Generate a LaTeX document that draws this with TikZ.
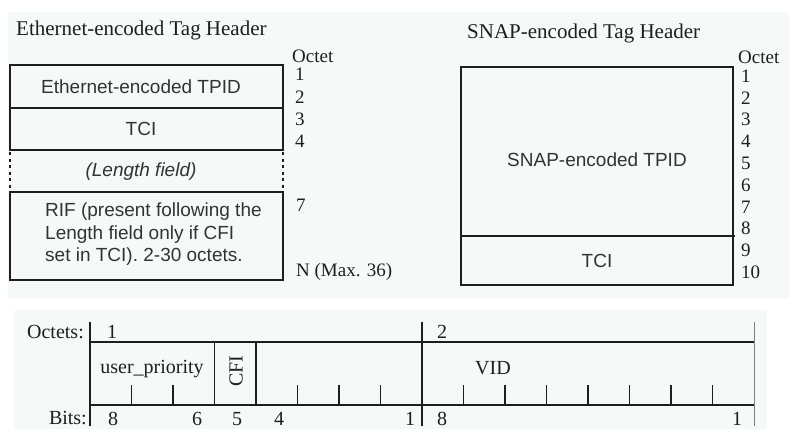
\documentclass[tikz,border=0pt]{standalone}
\usepackage{fontspec}
\setmainfont{Liberation Serif}
\newfontfamily\sansf{Liberation Sans}
\definecolor{panel}{HTML}{F5F9F7}
\definecolor{ink}{HTML}{1E1E1E}
\definecolor{soft}{HTML}{333333}
\begin{document}
\begin{tikzpicture}[x=1pt,y=-1pt,
  serift/.style={font=\fontsize{19}{21}\selectfont, text=ink, inner sep=0pt},
  bigt/.style={font=\fontsize{20}{22}\selectfont, text=ink, inner sep=0pt},
  titlet/.style={font=\fontsize{21}{23}\selectfont, text=ink, inner sep=0pt},
  sanst/.style={font=\sansf\fontsize{19}{23}\selectfont, text=soft, inner sep=0pt, align=center},
  boxline/.style={line width=2pt, draw=ink},
  rule/.style={line width=1.6pt, draw=ink},
  tick/.style={line width=1.5pt, draw=ink}]
\useasboundingbox (0,0) rectangle (789,429);
\fill[white] (0,0) rectangle (789,429);
% panels
\fill[panel] (8,12) rectangle (789,298);
\fill[panel] (14,310) rectangle (767,429);

% ---------- Ethernet-encoded tag header ----------
\node[titlet, anchor=west] (ethtitle) at (16,30) {Ethernet-encoded Tag Header};
\node[serift, anchor=west] (octL) at (292,56) {Octet};
\draw[boxline] (10,65) rectangle (283,108);
\draw[boxline] (10,108) rectangle (283,150);
\draw[boxline] (10,192) rectangle (283,280);
\draw[line width=2.4pt, draw=ink] (10,65) -- (10,150) (10,192) -- (10,280);
\draw[line width=2.2pt, draw=ink, dash pattern=on 3pt off 3.5pt] (10,152) -- (10,192);
\draw[line width=2.2pt, draw=ink, dash pattern=on 3pt off 3.5pt] (283,152) -- (283,192);
\node[sanst] (etpid) at (141,87) {Ethernet-encoded TPID};
\node[sanst] (etci) at (141,129) {TCI};
\node[sanst, font=\sansf\itshape\fontsize{19}{23}\selectfont] (elen) at (141,172) {(Length field)};
\node[sanst, align=left, anchor=north west, font=\sansf\fontsize{19}{22.5}\selectfont] (erif) at (45,203) {RIF (present following the\\Length field only if CFI\\set in TCI). 2-30 octets.};
\node[serift, anchor=west] (eo1) at (295,74) {1};
\node[serift, anchor=west] (eo2) at (295,97) {2};
\node[serift, anchor=west] (eo3) at (295,119) {3};
\node[serift, anchor=west] (eo4) at (295,141) {4};
\node[serift, anchor=west] (eo7) at (296,205) {7};
\node[serift, anchor=west] (eoN) at (296,272) {N (Max. 36)};

% ---------- SNAP-encoded tag header ----------
\node[titlet, anchor=west] (snaptitle) at (467,33) {SNAP-encoded Tag Header};
\node[serift, anchor=west] (octR) at (738,57) {Octet};
\draw[boxline] (461,67) rectangle (733,285);
\draw[line width=2.4pt, draw=ink] (461,67) -- (461,285);
\draw[boxline] (461,236) -- (735,236);
\node[sanst] (stpid) at (597,160) {SNAP-encoded TPID};
\node[sanst] (stci) at (597,261) {TCI};
\foreach \i in {1,...,10}{
  \node[serift, anchor=west] (so\i) at (741,{76+21.8*(\i-1)}) {\i};
}

% ---------- TCI bit layout ----------
\node[bigt, anchor=east] (octets) at (84,332) {Octets:};
\node[bigt, anchor=east] (bits) at (87,418) {Bits:};
\draw[line width=2.4pt, draw=ink] (90,322) -- (90,426);
\draw[line width=1.2pt, draw=ink] (422,322) -- (422,426);
\draw[line width=1pt, draw=gray] (754,322) -- (754,426);
\draw[rule] (90,342) -- (754,342);
\draw[rule] (90,405) -- (754,405);
\draw[rule] (214.5,342) -- (214.5,405);
\draw[line width=2.2pt, draw=ink] (256,342) -- (256,405);
\foreach \x in {131.5,173,297.5,339,380.5}{
  \draw[tick] (\x,385) -- (\x,405);
}
\foreach \x in {463.5,505,546.5,588,629.5,671,712.5}{
  \draw[tick] (\x,385) -- (\x,405);
}
\node[bigt] (oct1) at (112,332) {1};
\node[bigt] (oct2) at (442,332) {2};
\node[bigt] (uprio) at (152,369) {user\_priority};
\node[bigt, rotate=90] (cfi) at (236,371) {CFI};
\node[bigt] (vid) at (493,368) {VID};
\node[bigt] (b8a) at (113,419) {8};
\node[bigt] (b6) at (197,419) {6};
\node[bigt] (b5) at (237,419) {5};
\node[bigt] (b4) at (279,419) {4};
\node[bigt] (b1a) at (410,419) {1};
\node[bigt] (b8b) at (442,419) {8};
\node[bigt] (b1b) at (737,419) {1};
\end{tikzpicture}
\end{document}
